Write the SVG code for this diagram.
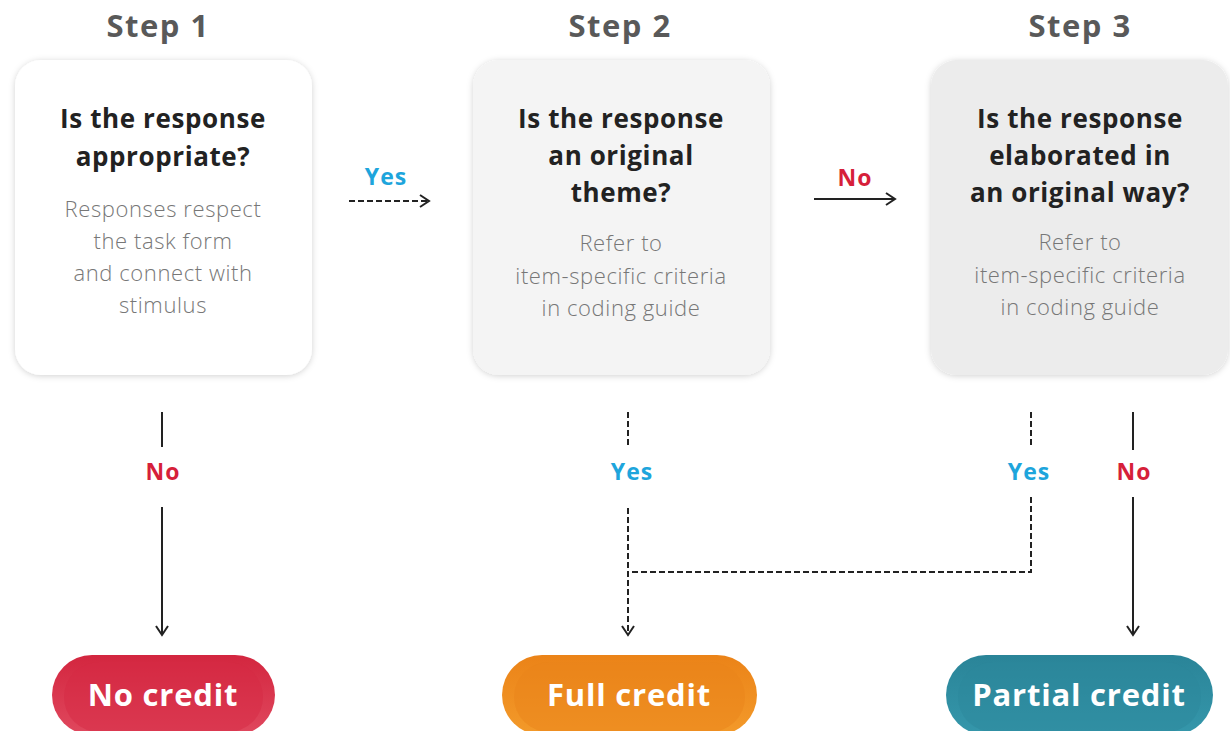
<svg xmlns="http://www.w3.org/2000/svg" width="1230" height="731" viewBox="0 0 1230 731">
<defs>
<style>
.step{font-family:"Open Sans",Lato,"Liberation Sans",sans-serif;font-weight:700;font-size:31px;letter-spacing:1.5px;fill:#595959;text-anchor:middle}
.q{font-family:"Open Sans",Lato,"Liberation Sans",sans-serif;font-weight:700;font-size:26px;letter-spacing:0.6px;fill:#222;text-anchor:middle}
.s{font-family:"Open Sans",Lato,"Liberation Sans",sans-serif;font-weight:300;font-size:22px;letter-spacing:0.6px;fill:#777;text-anchor:middle}
.yes{font-family:"Open Sans",Lato,"Liberation Sans",sans-serif;font-weight:700;font-size:23px;letter-spacing:1px;fill:#1ea5dc;text-anchor:middle}
.no{font-family:"Open Sans",Lato,"Liberation Sans",sans-serif;font-weight:700;font-size:23px;letter-spacing:1px;fill:#d61f3a;text-anchor:middle}
.pill{font-family:"Open Sans",Lato,"Liberation Sans",sans-serif;font-weight:700;font-size:31px;letter-spacing:0.8px;fill:#fff;text-anchor:middle}
.solid{stroke:#222;stroke-width:2;fill:none}
.dash{stroke:#222;stroke-width:2;fill:none;stroke-dasharray:6 3}
</style>
<filter id="sh" x="-10%" y="-10%" width="120%" height="120%">
<feDropShadow dx="0" dy="1" stdDeviation="3" flood-color="#000" flood-opacity="0.18"/>
</filter>
<marker id="ah" viewBox="0 0 14 14" refX="12" refY="7" markerWidth="14" markerHeight="14" markerUnits="userSpaceOnUse" orient="auto">
<path d="M3,1 L12,7 L3,13" fill="none" stroke="#222" stroke-width="2"/>
</marker>
<linearGradient id="gr" x1="0" y1="0" x2="0" y2="1"><stop offset="0" stop-color="#d3263f"/><stop offset="1" stop-color="#e0485e"/></linearGradient>
<linearGradient id="go" x1="0" y1="0" x2="0" y2="1"><stop offset="0" stop-color="#eb8318"/><stop offset="1" stop-color="#f39a2a"/></linearGradient>
<linearGradient id="gt" x1="0" y1="0" x2="0" y2="1"><stop offset="0" stop-color="#2a8498"/><stop offset="1" stop-color="#3597ab"/></linearGradient>
</defs>
<rect width="1230" height="731" fill="#fff"/>

<text class="step" x="158" y="37">Step 1</text>
<text class="step" x="620" y="37">Step 2</text>
<text class="step" x="1080" y="37">Step 3</text>

<g id="step1">
<rect x="15" y="60" width="297" height="315" rx="26" fill="#fff" filter="url(#sh)"/>
<text class="q" x="163" y="128">Is the response</text>
<text class="q" x="163" y="166">appropriate?</text>
<text class="s" x="163" y="217">Responses respect</text>
<text class="s" x="163" y="249">the task form</text>
<text class="s" x="163" y="281">and connect with</text>
<text class="s" x="163" y="313">stimulus</text>
</g>

<g id="step2">
<rect x="473" y="60" width="297" height="315" rx="26" fill="#f4f4f4" filter="url(#sh)"/>
<text class="q" x="621" y="128">Is the response</text>
<text class="q" x="621" y="165">an original</text>
<text class="q" x="621" y="202">theme?</text>
<text class="s" x="621" y="251">Refer to</text>
<text class="s" x="621" y="284">item-specific criteria</text>
<text class="s" x="621" y="316">in coding guide</text>
</g>

<g id="step3">
<rect x="931" y="60" width="297" height="315" rx="26" fill="#ececec" filter="url(#sh)"/>
<text class="q" x="1080" y="128">Is the response</text>
<text class="q" x="1080" y="165">elaborated in</text>
<text class="q" x="1080" y="202">an original way?</text>
<text class="s" x="1080" y="250">Refer to</text>
<text class="s" x="1080" y="283">item-specific criteria</text>
<text class="s" x="1080" y="315">in coding guide</text>
</g>

<g id="connectors">
<path class="dash" d="M349,201 H429" marker-end="url(#ah)"/>
<text class="yes" x="386" y="185">Yes</text>
<path class="solid" d="M814,199 H895" marker-end="url(#ah)"/>
<text class="no" x="855" y="186">No</text>

<path class="solid" d="M162,412 V447"/>
<text class="no" x="163" y="480">No</text>
<path class="solid" d="M162,507 V635" marker-end="url(#ah)"/>

<path class="dash" d="M628,412 V447"/>
<text class="yes" x="632" y="480">Yes</text>
<path class="dash" d="M628,508 V635" marker-end="url(#ah)"/>

<path class="dash" d="M1031,412 V447"/>
<text class="yes" x="1029" y="480">Yes</text>
<path class="dash" d="M1031,497 V572 H629"/>

<path class="solid" d="M1133,412 V450"/>
<text class="no" x="1134" y="480">No</text>
<path class="solid" d="M1133,497 V635" marker-end="url(#ah)"/>
</g>

<g id="nocredit">
<rect x="52" y="655" width="223" height="80" rx="40" fill="url(#gr)"/>
<rect x="64" y="662" width="199" height="70" rx="35" fill="#d52a44" opacity="0.5"/>
<text class="pill" x="163" y="706">No credit</text>
</g>
<g id="fullcredit">
<rect x="502" y="655" width="255" height="80" rx="40" fill="url(#go)"/>
<rect x="514" y="662" width="231" height="70" rx="35" fill="#ea8419" opacity="0.5"/>
<text class="pill" x="629" y="706">Full credit</text>
</g>
<g id="partialcredit">
<rect x="946" y="655" width="267" height="80" rx="40" fill="url(#gt)"/>
<rect x="958" y="662" width="243" height="70" rx="35" fill="#2b889c" opacity="0.5"/>
<text class="pill" x="1079" y="706">Partial credit</text>
</g>
</svg>
